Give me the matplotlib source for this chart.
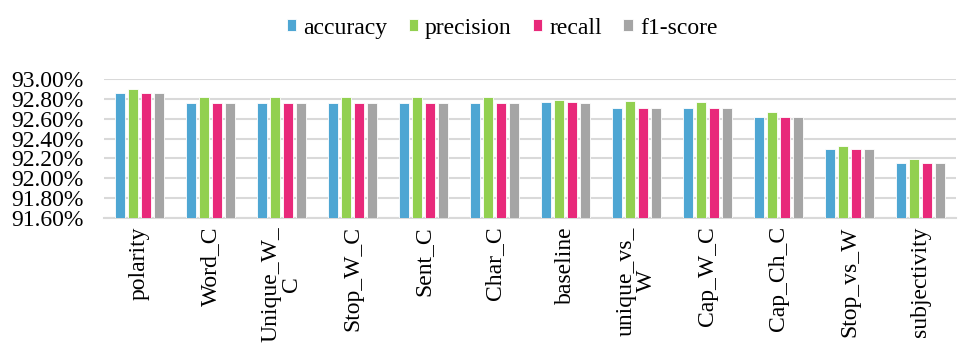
import matplotlib
matplotlib.use("Agg")
import matplotlib.pyplot as plt
import numpy as np
from matplotlib.ticker import FuncFormatter

categories = ["polarity", "Word_C", "Unique_W_\nC", "Stop_W_C", "Sent_C", "Char_C",
              "baseline", "unique_vs_\nW", "Cap_W_C", "Cap_Ch_C", "Stop_vs_W", "subjectivity"]
accuracy  = [92.856, 92.76, 92.76, 92.76, 92.76, 92.76, 92.765, 92.71, 92.71, 92.62, 92.29, 92.15]
precision = [92.90, 92.82, 92.82, 92.82, 92.82, 92.82, 92.79, 92.78, 92.77, 92.67, 92.33, 92.19]
recall    = [92.856, 92.76, 92.76, 92.76, 92.76, 92.76, 92.765, 92.71, 92.71, 92.62, 92.29, 92.15]
f1_score  = [92.86, 92.76, 92.76, 92.76, 92.76, 92.76, 92.755, 92.71, 92.71, 92.62, 92.29, 92.15]
series_names = ["accuracy", "precision", "recall", "f1-score"]
colors = ["#4EA6D3", "#92D050", "#E8297A", "#A5A5A5"]

plt.rcParams['font.family'] = ['Liberation Serif', 'DejaVu Serif']

fig = plt.figure(figsize=(9.58, 3.43), dpi=100)
ax = fig.add_axes([104/958, 1-218/343, 852/958, (218-79)/343])

x = np.arange(len(categories))
bw = 0.14
step = 0.183
series = [accuracy, precision, recall, f1_score]
for i, (s, c, n) in enumerate(zip(series, colors, series_names)):
    ax.bar(x + (i - 1.5) * step, s, width=bw, color=c, edgecolor="white",
           linewidth=0.6, label=n, zorder=3)

ax.set_ylim(91.6, 93.0)
ax.set_yticks(np.arange(91.6, 93.001, 0.2))
ax.yaxis.set_major_formatter(FuncFormatter(lambda v, p: f"{v:.2f}%"))
ax.set_xlim(-0.5, len(categories) - 0.5)
ax.set_xticks(x)
ax.set_xticklabels(categories, rotation=90, fontsize=17, multialignment="center",
                   linespacing=0.95)
ax.tick_params(axis="y", labelsize=17, length=0, pad=15)
ax.tick_params(axis="x", length=0, pad=6)
ax.grid(axis="y", color="#D9D9D9", linewidth=1.5, zorder=0)
for sp in ["top", "right", "left"]:
    ax.spines[sp].set_visible(False)
ax.spines["bottom"].set_color("#D9D9D9")
ax.spines["bottom"].set_linewidth(1.5)

fig.legend(loc="upper center", bbox_to_anchor=(0.524, 1.01), ncol=4, frameon=False,
           fontsize=17, handlelength=0.4, handleheight=0.4, handletextpad=0.3,
           columnspacing=0.9)

fig.savefig("out.png", dpi=100)
